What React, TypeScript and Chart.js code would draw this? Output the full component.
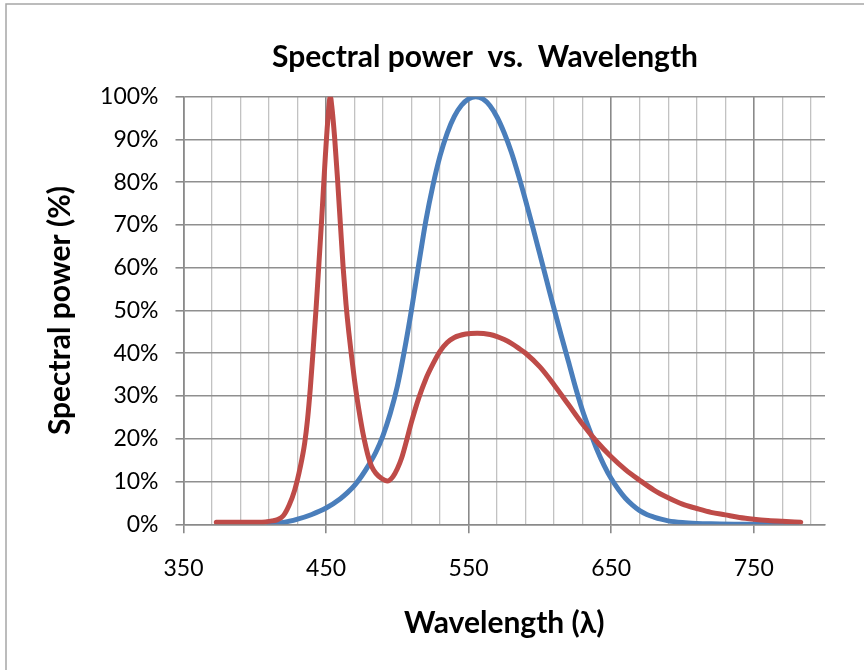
import React, { useEffect, useRef } from "react";
import { Chart, registerables } from "chart.js";

Chart.register(...registerables);

// ---- data ----
const chartTitle = "Spectral power  vs.  Wavelength";
const xAxisTitle = "Wavelength (λ)";
const yAxisTitle = "Spectral power (%)";

const xGridValues = [350, 370, 390, 410, 430, 450, 470, 490, 510, 530, 550, 570, 590, 610, 630, 650, 670, 690, 710, 730, 750, 770, 790];
const xLabelValues = [350, 450, 550, 650, 750];
const yTickValues = [0, 10, 20, 30, 40, 50, 60, 70, 80, 90, 100];

// blue series
const blueWavelengths = [410, 420, 430, 440, 450, 460, 465, 470, 475, 480, 485, 490, 495, 500, 505, 510, 515, 520, 525, 530, 535, 540, 545, 550, 555, 560, 565, 570, 575, 580, 585, 590, 595, 600, 605, 610, 615, 620, 625, 630, 635, 640, 645, 650, 655, 660, 665, 670, 675, 680, 685, 690, 700, 710, 720, 740, 760, 780];
const bluePower = [0.1, 0.4, 1.2, 2.3, 3.8, 6.0, 7.4, 9.1, 11.3, 13.9, 16.9, 20.8, 25.9, 32.3, 40.7, 50.3, 60.8, 71.0, 79.3, 86.2, 91.5, 95.4, 98.0, 99.5, 100, 99.5, 97.9, 95.2, 91.5, 87.0, 81.6, 75.7, 69.5, 63.1, 56.7, 50.3, 44.1, 38.1, 32.0, 26.5, 21.9, 17.5, 13.8, 10.7, 8.2, 6.1, 4.5, 3.2, 2.3, 1.7, 1.2, 0.8, 0.4, 0.2, 0.1, 0, 0, 0];

// red series
const redWavelengths = [373, 390, 405, 412, 416, 420, 424, 428, 432, 435, 437, 439, 441, 443, 445, 447, 449, 451, 453, 454, 456, 458, 460, 462, 464, 466, 468, 470, 472, 474, 476, 478, 480, 482, 485, 489, 493, 497, 500, 503, 506, 510, 515, 520, 525, 530, 535, 540, 548, 556, 565, 570, 575, 580, 585, 590, 600, 610, 620, 630, 640, 650, 660, 670, 680, 690, 700, 710, 720, 730, 740, 750, 760, 770, 783];
const redPower = [0.5, 0.5, 0.5, 0.8, 1.1, 2, 4.4, 8, 13.5, 19, 24.5, 32, 41, 50.5, 61, 71.7, 83.3, 93.5, 100, 97.8, 90.5, 81, 70.5, 60, 51.5, 44.8, 39, 33.6, 28.9, 24.8, 21.1, 18, 15.4, 13.5, 11.9, 10.7, 10.1, 11.2, 13, 15.5, 19, 24, 29.5, 34, 37.5, 40.5, 42.5, 43.7, 44.5, 44.7, 44.4, 43.9, 43.2, 42.3, 41.2, 40.0, 36.8, 32.6, 28.0, 23.4, 19.3, 15.8, 12.8, 10.3, 8.0, 6.2, 4.7, 3.7, 2.8, 2.2, 1.6, 1.2, 0.9, 0.7, 0.5];

const FONT = "Lato, 'Open Sans', sans-serif";

const toPoints = (xs: number[], ys: number[]) => xs.map((x, i) => ({ x, y: ys[i] }));

const titlePlugin = {
  id: "customTitleAndFrame",
  beforeDraw(chart: any) {
    const ctx = chart.ctx;
    ctx.save();
    ctx.fillStyle = "#ffffff";
    ctx.fillRect(0, 0, chart.width, chart.height);
    ctx.strokeStyle = "#a6a6a6";
    ctx.lineWidth = 1.5;
    ctx.strokeRect(6, 4, chart.width + 20, chart.height + 20);
    ctx.restore();
  },
  afterDraw(chart: any) {
    const ctx = chart.ctx;
    ctx.save();
    ctx.fillStyle = "#000000";
    ctx.font = `bold 30px ${FONT}`;
    ctx.textAlign = "center";
    ctx.textBaseline = "alphabetic";
    ctx.fillText(chartTitle, 485, 67);
    ctx.restore();
  },
};

export default function App() {
  const ref = useRef<HTMLCanvasElement | null>(null);

  useEffect(() => {
    if (!ref.current) return;
    const chart = new Chart(ref.current, {
      type: "line",
      data: {
        datasets: [
          {
            label: "Blue",
            data: toPoints(blueWavelengths, bluePower),
            borderColor: "#4A7EBB",
            borderWidth: 5,
            pointRadius: 0,
            fill: false,
            cubicInterpolationMode: "monotone",
            borderCapStyle: "round",
            borderJoinStyle: "round",
            order: 1,
          },
          {
            label: "Red",
            data: toPoints(redWavelengths, redPower),
            borderColor: "#BE4B48",
            borderWidth: 5,
            pointRadius: 0,
            fill: false,
            cubicInterpolationMode: "monotone",
            borderCapStyle: "round",
            borderJoinStyle: "round",
            order: 0,
          },
        ],
      },
      options: {
        responsive: false,
        animation: false,
        devicePixelRatio: 1,
        layout: { padding: { left: 0, top: 96.7, right: 39, bottom: 0 } },
        plugins: {
          legend: { display: false },
          tooltip: { enabled: false },
          title: { display: false },
        },
        scales: {
          x: {
            type: "linear",
            min: 350,
            max: 800,
            afterBuildTicks: (s: any) => {
              s.ticks = xGridValues.map((v) => ({ value: v }));
            },
            afterFit: (s: any) => {
              s.height = 670 - 524.3;
            },
            ticks: {
              autoSkip: false,
              maxRotation: 0,
              minRotation: 0,
              padding: 21.5,
              color: "#000000",
              font: { family: FONT, size: 23 },
              callback: (v: any) => (xLabelValues.includes(Number(v)) ? String(v) : ""),
            },
            grid: {
              color: (c: any) => (xLabelValues.includes(c.tick?.value) ? "#8a8a8a" : "#c2c2c2"),
              lineWidth: (c: any) => (xLabelValues.includes(c.tick?.value) ? 1.6 : 1.3),
              tickLength: 9,
              tickColor: (c: any) => (xLabelValues.includes(c.tick?.value) ? "#8a8a8a" : "rgba(0,0,0,0)"),
              tickWidth: 1.6,
            },
            border: { display: true, color: "#8a8a8a", width: 1.6 },
            title: {
              display: true,
              text: xAxisTitle,
              color: "#000000",
              font: { family: FONT, size: 30, weight: "bold" },
              padding: { top: 0, bottom: 29 },
            },
          },
          y: {
            type: "linear",
            min: 0,
            max: 100,
            afterBuildTicks: (s: any) => {
              s.ticks = yTickValues.map((v) => ({ value: v }));
            },
            afterFit: (s: any) => {
              s.width = 183.5;
            },
            ticks: {
              padding: 17,
              color: "#000000",
              font: { family: FONT, size: 23 },
              callback: (v: any) => `${v}%`,
            },
            grid: {
              color: "#8f8f8f",
              lineWidth: 1.6,
              tickLength: 8,
              tickColor: "#8a8a8a",
            },
            border: { display: true, color: "#8a8a8a", width: 1.6 },
            title: {
              display: true,
              text: yAxisTitle,
              color: "#000000",
              font: { family: FONT, size: 30, weight: "bold" },
              padding: { top: 42, bottom: 0 },
            },
          },
        },
      } as any,
      plugins: [titlePlugin],
    });
    return () => chart.destroy();
  }, []);

  return (
    <div style={{ position: "fixed", left: 0, top: 0, width: 864, height: 670, background: "#fff" }}>
      <canvas ref={ref} width={864} height={670} style={{ width: 864, height: 670, display: "block" }} />
    </div>
  );
}
